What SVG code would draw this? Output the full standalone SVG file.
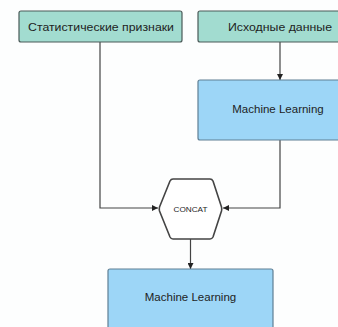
<svg xmlns="http://www.w3.org/2000/svg" width="338" height="327" viewBox="0 0 338 327">
<defs>
<style>
.teal{fill:#a2dcd0;stroke:#4a5a58;stroke-width:1.2}
.blue{fill:#9dd6f7;stroke:#5f7f94;stroke-width:1.2}
.hex{fill:#ffffff;stroke:#444;stroke-width:1.6;stroke-linejoin:round}
.t{font-family:"Liberation Sans",Arial,sans-serif;fill:#1e1e1e;text-anchor:middle;dominant-baseline:central}
.edge{fill:none;stroke:#444;stroke-width:1.2}
</style>
<marker id="arr" viewBox="0 0 6 6" refX="6" refY="3" markerWidth="6" markerHeight="6" orient="auto" markerUnits="userSpaceOnUse">
<path d="M0,0 L6,3 L0,6 z" fill="#222"/>
</marker>
</defs>
<rect width="338" height="327" fill="#fdfefe"/>
<g id="edges">
<path class="edge" d="M100,42 V208 H158" marker-end="url(#arr)"/>
<path class="edge" d="M280,42 V80" marker-end="url(#arr)"/>
<path class="edge" d="M280,140 V208 H223" marker-end="url(#arr)"/>
<path class="edge" d="M190.5,239 V269" marker-end="url(#arr)"/>
</g>
<g id="stat">
<rect class="teal" x="19" y="11" width="163" height="31" rx="2"/>
<text class="t" x="101" y="26.5" font-size="11" textLength="146" lengthAdjust="spacingAndGlyphs">Статистические признаки</text>
</g>
<g id="src">
<rect class="teal" x="198" y="11" width="150" height="31" rx="2"/>
<text class="t" x="280" y="26.5" font-size="11" textLength="104" lengthAdjust="spacingAndGlyphs">Исходные данные</text>
</g>
<g id="ml1">
<rect class="blue" x="198" y="80" width="150" height="60" rx="2"/>
<text class="t" x="278" y="108.5" font-size="11.5">Machine Learning</text>
</g>
<g id="concat">
<path class="hex" d="M173,179 H210 Q212,179 213,181 L221.5,207 Q222,209 221.5,211 L213,237 Q212,239 210,239 H173 Q171,239 170,237 L159.5,211 Q159,209 159.5,207 L170,181 Q171,179 173,179 Z"/>
<text class="t" x="190.5" y="209" font-size="7.5" textLength="34" lengthAdjust="spacingAndGlyphs">CONCAT</text>
</g>
<g id="ml2">
<rect class="blue" x="108" y="269" width="165" height="70" rx="2"/>
<text class="t" x="190.5" y="297" font-size="11.5">Machine Learning</text>
</g>
</svg>
